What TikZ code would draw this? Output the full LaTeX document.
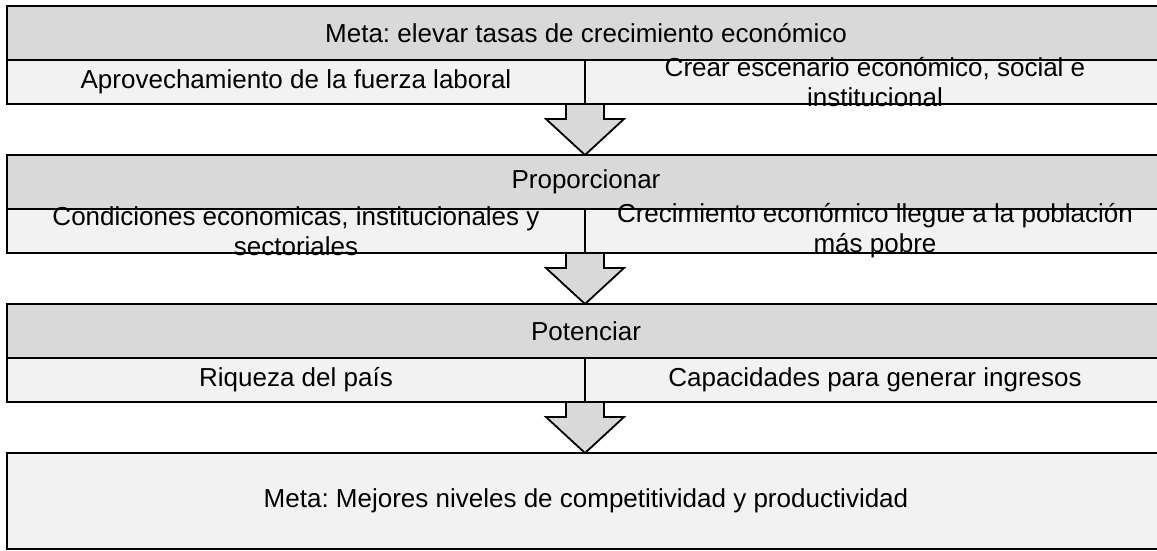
\documentclass[tikz,border=0pt]{standalone}
\usepackage{fontspec}
\setmainfont{Liberation Sans}
\usepackage{tikz}
\usetikzlibrary{calc,backgrounds,positioning}
\frenchspacing
\definecolor{grisoscuro}{RGB}{217,217,217}
\definecolor{grisclaro}{RGB}{242,242,242}
\tikzset{
  titulo/.style={draw,line width=2pt,fill=grisoscuro,minimum width=1158pt,minimum height=54pt,inner sep=0pt,outer sep=0pt,anchor=north west},
  celda/.style={draw,line width=2pt,fill=grisclaro,minimum height=44pt,inner sep=0pt,outer sep=0pt,anchor=north west},
  caja/.style={draw,line width=2pt,fill=grisclaro,minimum width=1158pt,minimum height=96pt,inner sep=0pt,outer sep=0pt,anchor=north west},
  texto/.style={align=center,inner sep=0pt},
  flecha/.style={draw,line width=1.8pt,fill=grisoscuro,line join=miter},
}
\newcommand{\bajar}[2]{%
  \draw[flecha] let \p1=(#1.south east), \p2=(#2.north) in
    (\x1-19pt,\y1) -- (\x1-19pt,\y1-15pt) -- (\x1-39pt,\y1-15pt) -- (\x1,\y2)
    -- (\x1+39pt,\y1-15pt) -- (\x1+19pt,\y1-15pt) -- (\x1+19pt,\y1);}

\begin{document}
\begin{tikzpicture}[x=1pt,y=-1pt,font=\fontsize{26}{30}\selectfont]
\useasboundingbox (0,0) rectangle (1157,550);
\node[titulo] (meta) at (7,6) {Meta: elevar tasas de crecimiento económico};
\node[celda,minimum width=578pt] (aprov) at (meta.south west) {};
\node[celda,minimum width=580pt] (crear) at (aprov.north east) {};
\node[texto] (aprovtxt) at (aprov) {Aprovechamiento de la fuerza laboral};
\node[texto] (creartxt) at (crear) {Crear escenario económico, social e\\institucional};

\node[titulo] (prop) at (7,155) {Proporcionar};
\node[celda,minimum width=578pt] (cond) at (prop.south west) {};
\node[celda,minimum width=580pt] (crec) at (cond.north east) {};
\node[texto] (condtxt) at (cond) {Condiciones economicas, institucionales y\\sectoriales};
\node[texto] (crectxt) at (crec) {Crecimiento económico llegue a la población\\más pobre};

\node[titulo] (pot) at (7,304) {Potenciar};
\node[celda,minimum width=578pt] (riq) at (pot.south west) {};
\node[celda,minimum width=580pt] (capa) at (riq.north east) {};
\node[texto] (riqtxt) at (riq) {Riqueza del país};
\node[texto] (capatxt) at (capa) {Capacidades para generar ingresos};

\node[caja] (metafin) at (7,453) {Meta: Mejores niveles de competitividad y productividad};

\begin{scope}[on background layer]
\bajar{aprov}{prop}
\bajar{cond}{pot}
\bajar{riq}{metafin}
\end{scope}
\end{tikzpicture}
\end{document}
